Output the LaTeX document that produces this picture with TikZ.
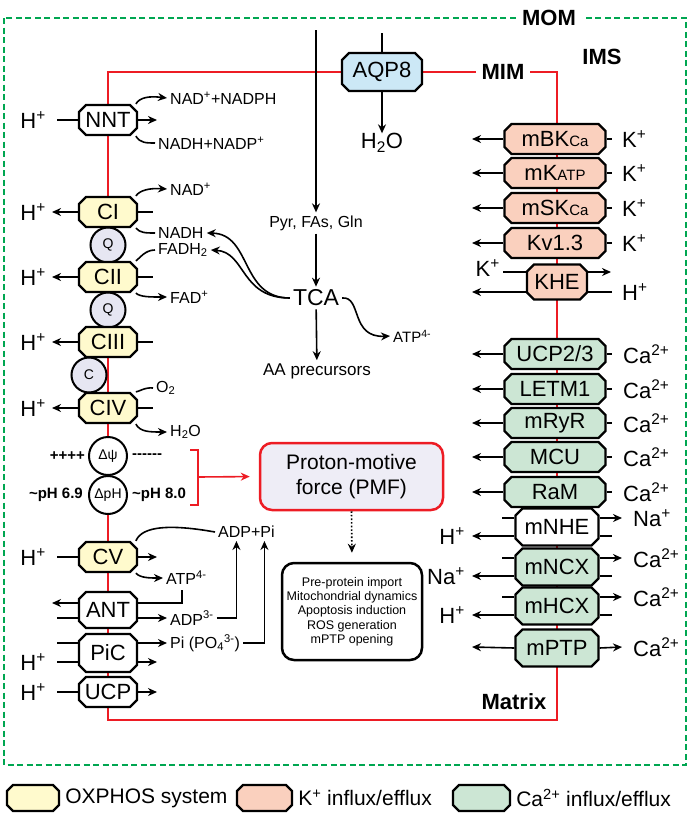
\documentclass[tikz,border=0pt]{standalone}
\usepackage{fontspec}
\setmainfont{Liberation Sans}
\usepackage{tikz}
\usetikzlibrary{arrows.meta,positioning}

\definecolor{oxYellow}{RGB}{255,250,205}
\definecolor{kSalmon}{RGB}{250,208,190}
\definecolor{caGreen}{RGB}{204,230,212}
\definecolor{aqBlue}{RGB}{204,232,246}
\definecolor{qLilac}{RGB}{230,230,242}
\definecolor{pmfLilac}{RGB}{238,237,246}
\definecolor{mimRed}{RGB}{237,28,36}
\definecolor{momGreen}{RGB}{0,166,81}

\newcommand{\szL}{\fontsize{22}{24}\selectfont}
\newcommand{\szM}{\fontsize{16}{18}\selectfont}
\newcommand{\szS}{\fontsize{12.5}{14.3}\selectfont}
\newcommand{\szC}{\fontsize{14}{16}\selectfont}
\newcommand{\szT}{\fontsize{15}{17}\selectfont\bfseries}
\newcommand{\szH}{\fontsize{22}{24}\selectfont\bfseries}
\newcommand{\sml}[1]{{\fontsize{15}{15}\selectfont #1}}
\newcommand{\dashrun}{-\kern0pt-\kern0pt-\kern0pt-\kern0pt-\kern0pt-}

% octagonal box for the membrane proteins
\makeatletter
\pgfkeys{/pgf/octo cut/.initial=7pt}
\pgfdeclareshape{octo}{
	\inheritsavedanchors[from=rectangle]
	\inheritanchorborder[from=rectangle]
	\inheritanchor[from=rectangle]{center}
	\inheritanchor[from=rectangle]{north}
	\inheritanchor[from=rectangle]{south}
	\inheritanchor[from=rectangle]{east}
	\inheritanchor[from=rectangle]{west}
	\inheritanchor[from=rectangle]{north east}
	\inheritanchor[from=rectangle]{north west}
	\inheritanchor[from=rectangle]{south east}
	\inheritanchor[from=rectangle]{south west}
	\inheritanchor[from=rectangle]{base}
	\inheritanchor[from=rectangle]{mid}
	\backgroundpath{%
		\southwest \pgf@xa=\pgf@x \pgf@ya=\pgf@y
		\northeast \pgf@xb=\pgf@x \pgf@yb=\pgf@y
		\pgfmathsetlength\pgf@xc{\pgfkeysvalueof{/pgf/outer xsep}}%
		\pgfmathsetlength\pgf@yc{\pgfkeysvalueof{/pgf/outer ysep}}%
		\advance\pgf@xa by\pgf@xc \advance\pgf@ya by\pgf@yc
		\advance\pgf@xb by-\pgf@xc \advance\pgf@yb by-\pgf@yc
		\edef\octoxa{\the\pgf@xa}\edef\octoya{\the\pgf@ya}%
		\edef\octoxb{\the\pgf@xb}\edef\octoyb{\the\pgf@yb}%
		\pgfmathsetlengthmacro\octoc{\pgfkeysvalueof{/pgf/octo cut}}%
		\pgfpathmoveto{\pgfpoint{\octoxa+\octoc}{\octoya}}%
		\pgfpathlineto{\pgfpoint{\octoxb-\octoc}{\octoya}}%
		\pgfpathlineto{\pgfpoint{\octoxb}{\octoya+\octoc}}%
		\pgfpathlineto{\pgfpoint{\octoxb}{\octoyb-\octoc}}%
		\pgfpathlineto{\pgfpoint{\octoxb-\octoc}{\octoyb}}%
		\pgfpathlineto{\pgfpoint{\octoxa+\octoc}{\octoyb}}%
		\pgfpathlineto{\pgfpoint{\octoxa}{\octoyb-\octoc}}%
		\pgfpathlineto{\pgfpoint{\octoxa}{\octoya+\octoc}}%
		\pgfpathclose
	}
}
\makeatother

\begin{document}
\begin{tikzpicture}[
	x=1pt, y=-1pt,
	cplx/.style={shape=octo, /pgf/octo cut=7pt, draw=black, line width=2.2pt, inner sep=0pt, minimum width=58pt, minimum height=30pt, font=\szL},
	cplxOx/.style={cplx, fill=oxYellow},
	cplxWh/.style={cplx, fill=white},
	chanK/.style={cplx, fill=kSalmon, minimum width=101pt},
	chanCa/.style={cplx, fill=caGreen, minimum width=101pt},
	exch/.style={cplx, minimum width=83pt, minimum height=37pt},
	carrier/.style={circle, draw=black, line width=2pt, fill=qLilac, inner sep=0pt, minimum size=35pt, font=\szC},
	grad/.style={circle, draw=black, line width=2pt, fill=white, inner sep=0pt, minimum size=38pt, font=\szC},
	ion/.style={inner sep=0pt, font=\szL},
	lbl/.style={inner sep=3pt, font=\szM},
	grTxt/.style={inner sep=2pt, font=\szT},
	arr/.style={-{Stealth[length=9pt,width=8pt]}, line width=1.6pt},
	ln/.style={line width=1.6pt}
]
	\useasboundingbox (0,0) rectangle (689,814);

	% membranes
	\draw[momGreen, line width=2.5pt, dash pattern=on 6pt off 3.5pt] (4,18) rectangle (686,765);
	\node[font=\szH, fill=white, inner xsep=6pt] (nodeMOM) at (549,18) {MOM};
	\draw[mimRed, line width=2.5pt] (108,72) rectangle (557,720);
	\node[font=\szH, fill=white, inner xsep=6pt] (nodeMIM) at (503,72) {MIM};
	\node[font=\szH] (nodeIMS) at (602,57) {IMS};
	\node[font=\szH] (nodeMatrix) at (514,702) {Matrix};

	% water and substrates
	\coordinate (flowTop) at (316,30);
	\coordinate (aqpTop) at (382,33);
	\node[cplx, fill=aqBlue, minimum width=80pt, minimum height=38pt] (nodeAQP) at (382,72) {AQP8};
	\node[ion] (nodeH2Oa) at (382,143) {H\textsubscript{2}O};
	\node[lbl] (nodePyr) at (316,223) {Pyr, FAs, Gln};
	\node[inner sep=3pt, font=\fontsize{23}{25}\selectfont] (nodeTCA) at (316,298) {TCA};
	\node[inner sep=3pt, font=\fontsize{17}{19}\selectfont] (nodeAA) at (317,371) {AA precursors};
	\node[lbl, font=\fontsize{15}{17}\selectfont, anchor=west] (nodeATPt) at (390,336) {ATP\textsuperscript{4-}};

	\draw[ln] (aqpTop) -- (nodeAQP);
	\draw[arr] (nodeAQP) -- (nodeH2Oa);
	\draw[arr] (flowTop) -- (nodePyr);
	\draw[arr] (nodePyr) -- (nodeTCA);
	\draw[arr] (nodeTCA) -- (nodeAA);
	\draw[arr] (nodeTCA.east) .. controls (362,296) and (350,338) .. (nodeATPt.west);

	% OXPHOS column
	\node[carrier] (nodeQ1) at (108,245) {Q};
	\node[carrier] (nodeQ2) at (108,310) {Q};
	\node[carrier] (nodeCytC) at (89,375) {C};
	\node[cplxWh] (nodeNNT) at (108,120) {NNT};
	\node[cplxOx] (nodeCI) at (108,212) {CI};
	\node[cplxOx] (nodeCII) at (108,277) {CII};
	\node[cplxOx] (nodeCIII) at (108,342) {CIII};
	\node[cplxOx] (nodeCIV) at (108,408) {CIV};
	\node[grad] (nodeDpsi) at (108,456) {Δψ};
	\node[grad] (nodeDpH) at (108,495) {ΔpH};
	\node[cplxOx] (nodeCV) at (108,557) {CV};
	\node[cplxWh, minimum height=36pt] (nodeANT) at (108,610) {ANT};
	\node[cplxWh, minimum height=38pt] (nodePiC) at (108,653) {PiC};
	\node[cplxWh] (nodeUCP) at (108,692) {UCP};

	\node[ion, anchor=east, inner xsep=11pt] (nodeHnnt) at (57,120) {H\textsuperscript{+}};
	\node[ion, anchor=east, inner xsep=6pt] (nodeHci) at (52,212) {H\textsuperscript{+}};
	\node[ion, anchor=east, inner xsep=6pt] (nodeHcii) at (52,277) {H\textsuperscript{+}};
	\node[ion, anchor=east, inner xsep=6pt] (nodeHciii) at (52,342) {H\textsuperscript{+}};
	\node[ion, anchor=east, inner xsep=6pt] (nodeHciv) at (52,408) {H\textsuperscript{+}};
	\node[ion, anchor=east, inner xsep=11pt] (nodeHcv) at (57,557) {H\textsuperscript{+}};
	\node[ion, anchor=east, inner xsep=11pt] (nodeHpic) at (57,662) {H\textsuperscript{+}};
	\node[ion, anchor=east, inner xsep=11pt] (nodeHucp) at (57,692) {H\textsuperscript{+}};

	\node[lbl, anchor=west] (nodeNADPH) at (167,98) {NAD\textsuperscript{+}+NADPH};
	\node[lbl, anchor=west] (nodeNADHP) at (155,143) {NADH+NADP\textsuperscript{+}};
	\node[lbl, anchor=west] (nodeNAD) at (167,189) {NAD\textsuperscript{+}};
	\node[lbl, anchor=west] (nodeNADH) at (155,233) {NADH};
	\node[lbl, anchor=west] (nodeFADH) at (155,250) {FADH\textsubscript{2}};
	\node[lbl, anchor=west] (nodeFAD) at (167,297) {FAD\textsuperscript{+}};
	\node[lbl, anchor=west] (nodeO2) at (153,388) {O\textsubscript{2}};
	\node[lbl, anchor=west] (nodeH2Ob) at (167,432) {H\textsubscript{2}O};
	\node[lbl, anchor=west] (nodeADPPi) at (215,532) {ADP+Pi};
	\node[lbl, anchor=west] (nodeATPcv) at (163,578) {ATP\textsuperscript{4-}};
	\node[lbl, anchor=west] (nodeADP3) at (167,618) {ADP\textsuperscript{3-}};
	\node[lbl, anchor=west] (nodePi) at (167,643) {Pi (PO\textsubscript{4}\textsuperscript{3-})};

	\coordinate (nntOut) at (157,120);
	\coordinate (ciStub) at (153,212);
	\coordinate (ciiStub) at (153,277);
	\coordinate (ciiiStub) at (153,342);
	\coordinate (civStub) at (153,408);
	\coordinate (cvOut) at (157,557);
	\coordinate (atpDrop) at (182,590);
	\coordinate (antOut) at (52,603);
	\coordinate (antIn) at (57,618);
	\coordinate (picIn) at (57,643);
	\coordinate (picOut) at (157,662);
	\coordinate (ucpOut) at (157,692);

	\draw[ln] (nodeHnnt.east) -- (nodeNNT.west);
	\draw[arr] (nodeNNT.east) -- (nntOut);
	\draw[arr] (nodeNNT.30) .. controls (140,97) and (150,96) .. (nodeNADPH.west);
	\draw[ln] (nodeNNT.-30) .. controls (140,143) and (146,143) .. (nodeNADHP.west);

	\draw[arr] (nodeCI.west) -- (nodeHci.east);
	\draw[ln] (nodeCI.east) -- (ciStub);
	\draw[arr] (nodeCI.30) .. controls (140,190) and (150,188) .. (nodeNAD.west);
	\draw[ln] (nodeCI.-30) .. controls (140,233) and (146,233) .. (nodeNADH.west);

	\draw[arr] (nodeCII.west) -- (nodeHcii.east);
	\draw[ln] (nodeCII.east) -- (ciiStub);
	\draw[ln] (nodeFADH.west) .. controls (145,250) and (140,258) .. (nodeCII.30);
	\draw[arr] (nodeCII.-30) .. controls (140,297) and (150,297) .. (nodeFAD.west);

	\draw[arr] (nodeCIII.west) -- (nodeHciii.east);
	\draw[ln] (nodeCIII.east) -- (ciiiStub);

	\draw[arr] (nodeCIV.west) -- (nodeHciv.east);
	\draw[ln] (nodeCIV.east) -- (civStub);
	\draw[ln] (nodeO2.west) .. controls (145,387) and (138,392) .. (nodeCIV.30);
	\draw[arr] (nodeCIV.-30) .. controls (140,432) and (150,432) .. (nodeH2Ob.west);

	\draw[arr] (nodeTCA.west) .. controls (240,298) and (252,234) .. (nodeNADH.east);
	\draw[arr] (nodeTCA.west) .. controls (240,298) and (246,252) .. (nodeFADH.east);

	\draw[ln] (nodeHcv.east) -- (nodeCV.west);
	\draw[arr] (nodeCV.east) -- (cvOut);
	\draw[ln] (nodeADPPi.west) .. controls (170,524) and (142,526) .. (nodeCV.30);
	\draw[arr] (nodeCV.-30) .. controls (140,578) and (150,578) .. (nodeATPcv.west);

	\draw[ln] (atpDrop) |- ([yshift=7pt]nodeANT.east);
	\draw[arr] ([yshift=7pt]nodeANT.west) -- (antOut);
	\draw[ln] (antIn) -- ([yshift=-8pt]nodeANT.west);
	\draw[arr] ([yshift=-8pt]nodeANT.east) -- (nodeADP3.west);
	\draw[arr] (nodeADP3.east) -| ([xshift=-10pt]nodeADPPi.south);

	\draw[ln] (picIn) -- ([yshift=10pt]nodePiC.west);
	\draw[arr] ([yshift=10pt]nodePiC.east) -- (nodePi.west);
	\draw[ln] (nodeHpic.east) -- ([yshift=-9pt]nodePiC.west);
	\draw[arr] ([yshift=-9pt]nodePiC.east) -- (picOut);
	\draw[arr] (nodePi.east) -| ([xshift=18pt]nodeADPPi.south);

	\draw[ln] (nodeHucp.east) -- (nodeUCP.west);
	\draw[arr] (nodeUCP.east) -- (ucpOut);

	% gradients and PMF
	\node[grTxt, anchor=east] (nodePlus) at (87,456) {++++};
	\node[grTxt, anchor=west] (nodeMinus) at (130,456) {\dashrun};
	\node[grTxt, anchor=east] (nodePHin) at (85,495) {\textasciitilde pH 6.9};
	\node[grTxt, anchor=west] (nodePHout) at (130,495) {\textasciitilde pH 8.0};

	\node[draw=mimRed, line width=2.5pt, fill=pmfLilac, rounded corners=12pt, minimum width=183pt, minimum height=67pt, align=center, font=\fontsize{21}{25}\selectfont] (nodePMF) at (351.5,476.5) {Proton-motive\\force (PMF)};
	\node[draw=black, line width=2.5pt, rounded corners=12pt, minimum width=140pt, minimum height=97pt, align=center, font=\szS] (nodeOut) at (352,611.5) {Pre-protein import\\Mitochondrial dynamics\\Apoptosis induction\\ROS generation\\mPTP opening};

	\draw[mimRed, line width=2.5pt] (190,450) -- (198,450) -- (198,505) -- (190,505);
	\coordinate (bracketMid) at (198,477);
	\draw[arr, mimRed, shorten >=9pt] (bracketMid) -- (nodePMF.west);
	\draw[arr, dotted, shorten >=9pt] (nodePMF.south) -- (nodeOut.north);

	% K+ channels
	\node[chanK] (nodeBK) at (555,139) {mBK\sml{Ca}};
	\node[chanK] (nodeKATP) at (555,173) {mK\sml{ATP}};
	\node[chanK] (nodeSK) at (555,208) {mSK\sml{Ca}};
	\node[chanK] (nodeKv) at (555,243) {Kv1.3};
	\node[cplx, fill=kSalmon, minimum width=60pt, minimum height=35pt] (nodeKHE) at (557,282) {KHE};

	\node[ion, anchor=west, inner xsep=10pt] (nodeKbk) at (612,139) {K\textsuperscript{+}};
	\node[ion, anchor=west, inner xsep=10pt] (nodeKatp) at (612,173) {K\textsuperscript{+}};
	\node[ion, anchor=west, inner xsep=10pt] (nodeKsk) at (612,208) {K\textsuperscript{+}};
	\node[ion, anchor=west, inner xsep=10pt] (nodeKkv) at (612,243) {K\textsuperscript{+}};
	\node[ion, anchor=east, inner xsep=3pt] (nodeKkhe) at (503,268) {K\textsuperscript{+}};
	\node[ion, anchor=west, inner xsep=10pt] (nodeHkhe) at (612,292) {H\textsuperscript{+}};

	\coordinate (bkOut) at (472,139);
	\coordinate (katpOut) at (472,173);
	\coordinate (skOut) at (472,208);
	\coordinate (kvOut) at (472,243);
	\coordinate (kheKout) at (611,272);
	\coordinate (kheHout) at (472,292);

	\draw[ln] (nodeBK.east) -- (nodeKbk.west);
	\draw[arr] (nodeBK.west) -- (bkOut);
	\draw[ln] (nodeKATP.east) -- (nodeKatp.west);
	\draw[arr] (nodeKATP.west) -- (katpOut);
	\draw[ln] (nodeSK.east) -- (nodeKsk.west);
	\draw[arr] (nodeSK.west) -- (skOut);
	\draw[ln] (nodeKv.east) -- (nodeKkv.west);
	\draw[arr] (nodeKv.west) -- (kvOut);
	\draw[ln] ([yshift=-4pt]nodeKkhe.east) -- ([yshift=10pt]nodeKHE.west);
	\draw[arr] ([yshift=10pt]nodeKHE.east) -- (kheKout);
	\draw[ln] (nodeHkhe.west) -- ([yshift=-10pt]nodeKHE.east);
	\draw[arr] ([yshift=-10pt]nodeKHE.west) -- (kheHout);

	% Ca2+ channels
	\node[chanCa] (nodeUCPb) at (555,354) {UCP2/3};
	\node[chanCa] (nodeLETM) at (555,389) {LETM1};
	\node[chanCa] (nodeRyR) at (555,423) {mRyR};
	\node[chanCa] (nodeMCU) at (555,457) {MCU};
	\node[chanCa] (nodeRaM) at (555,492) {RaM};

	\node[ion, anchor=west, inner xsep=11pt] (nodeCa1) at (612,354) {Ca\textsuperscript{2+}};
	\node[ion, anchor=west, inner xsep=11pt] (nodeCa2) at (612,389) {Ca\textsuperscript{2+}};
	\node[ion, anchor=west, inner xsep=11pt] (nodeCa3) at (612,423) {Ca\textsuperscript{2+}};
	\node[ion, anchor=west, inner xsep=11pt] (nodeCa4) at (612,457) {Ca\textsuperscript{2+}};
	\node[ion, anchor=west, inner xsep=11pt] (nodeCa5) at (612,492) {Ca\textsuperscript{2+}};

	\coordinate (ucpbOut) at (472,354);
	\coordinate (letmOut) at (472,389);
	\coordinate (ryrOut) at (472,423);
	\coordinate (mcuOut) at (472,457);
	\coordinate (ramOut) at (472,492);

	\draw[ln] (nodeUCPb.east) -- (nodeCa1.west);
	\draw[arr] (nodeUCPb.west) -- (ucpbOut);
	\draw[ln] (nodeLETM.east) -- (nodeCa2.west);
	\draw[arr] (nodeLETM.west) -- (letmOut);
	\draw[ln] (nodeRyR.east) -- (nodeCa3.west);
	\draw[arr] (nodeRyR.west) -- (ryrOut);
	\draw[ln] (nodeMCU.east) -- (nodeCa4.west);
	\draw[arr] (nodeMCU.west) -- (mcuOut);
	\draw[ln] (nodeRaM.east) -- (nodeCa5.west);
	\draw[arr] (nodeRaM.west) -- (ramOut);

	% exchangers
	\node[exch, fill=white] (nodeNHE) at (557,527) {mNHE};
	\node[exch, fill=caGreen] (nodeNCX) at (557,567) {mNCX};
	\node[exch, fill=caGreen] (nodeHCX) at (557,606) {mHCX};
	\node[exch, fill=caGreen] (nodePTP) at (557,648) {mPTP};

	\node[ion, anchor=west, inner xsep=11pt] (nodeNa1) at (622,518) {Na\textsuperscript{+}};
	\node[ion, anchor=east, inner xsep=7pt] (nodeHnhe) at (472,536) {H\textsuperscript{+}};
	\node[ion, anchor=west, inner xsep=11pt] (nodeCa6) at (622,558) {Ca\textsuperscript{2+}};
	\node[ion, anchor=east, inner xsep=7pt] (nodeNa2) at (472,576) {Na\textsuperscript{+}};
	\node[ion, anchor=west, inner xsep=11pt] (nodeCa7) at (622,597) {Ca\textsuperscript{2+}};
	\node[ion, anchor=east, inner xsep=7pt] (nodeHhcx) at (472,615) {H\textsuperscript{+}};
	\node[ion, anchor=west, inner xsep=11pt] (nodeCa8) at (622,647) {Ca\textsuperscript{2+}};

	\coordinate (nheIn) at (502,518);
	\coordinate (nheEnd) at (612,536);
	\coordinate (ncxIn) at (502,558);
	\coordinate (ncxEnd) at (612,576);
	\coordinate (hcxIn) at (502,597);
	\coordinate (hcxEnd) at (612,615);
	\coordinate (ptpOut) at (472,647);

	\draw[ln] (nheIn) -- ([yshift=9pt]nodeNHE.west);
	\draw[arr] ([yshift=9pt]nodeNHE.east) -- (nodeNa1.west);
	\draw[arr] ([yshift=-9pt]nodeNHE.west) -- (nodeHnhe.east);
	\draw[ln] ([yshift=-9pt]nodeNHE.east) -- (nheEnd);
	\draw[ln] (ncxIn) -- ([yshift=9pt]nodeNCX.west);
	\draw[arr] ([yshift=9pt]nodeNCX.east) -- (nodeCa6.west);
	\draw[arr] ([yshift=-9pt]nodeNCX.west) -- (nodeNa2.east);
	\draw[ln] ([yshift=-9pt]nodeNCX.east) -- (ncxEnd);
	\draw[ln] (hcxIn) -- ([yshift=9pt]nodeHCX.west);
	\draw[arr] ([yshift=9pt]nodeHCX.east) -- (nodeCa7.west);
	\draw[arr] ([yshift=-9pt]nodeHCX.west) -- (nodeHhcx.east);
	\draw[ln] ([yshift=-9pt]nodeHCX.east) -- (hcxEnd);
	\draw[arr] (nodePTP.west) -- (ptpOut);
	\draw[arr] (nodePTP.east) -- (nodeCa8.west);

	% legend
	\node[cplx, /pgf/octo cut=6pt, fill=oxYellow, minimum width=52pt, minimum height=26pt] (legOx) at (33,798) {};
	\node[right=3pt of legOx, inner sep=2pt, font=\fontsize{21}{23}\selectfont] (legOxTxt) {OXPHOS system};
	\node[cplx, /pgf/octo cut=6pt, fill=kSalmon, minimum width=55pt, minimum height=26pt] (legK) at (264.5,798) {};
	\node[right=3pt of legK, inner sep=2pt, font=\fontsize{21}{23}\selectfont] (legKTxt) {K\textsuperscript{+} influx/efflux};
	\node[cplx, /pgf/octo cut=6pt, fill=caGreen, minimum width=57pt, minimum height=26pt] (legCa) at (481.5,798) {};
	\node[right=3pt of legCa, inner sep=2pt, font=\fontsize{21}{23}\selectfont] (legCaTxt) {Ca\textsuperscript{2+} influx/efflux};
\end{tikzpicture}
\end{document}
